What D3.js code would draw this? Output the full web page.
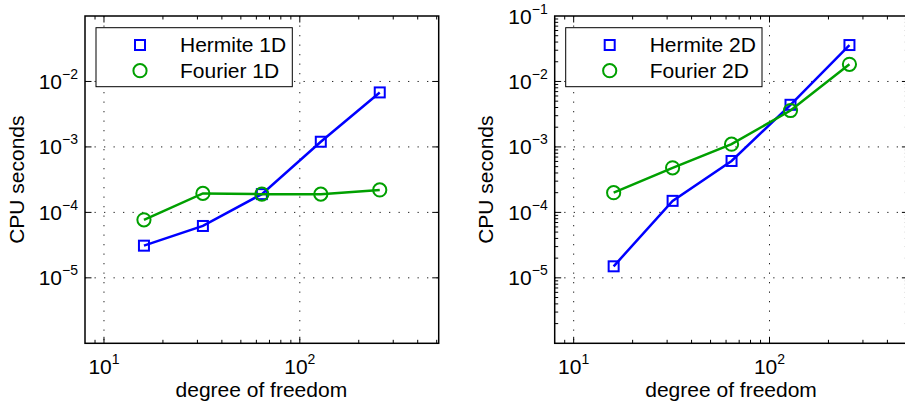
<!DOCTYPE html>
<html>
<head>
<meta charset="utf-8">
<script src="https://cdn.jsdelivr.net/npm/d3@7"></script>
<style>
  body { margin: 0; background: #fff; }
  svg { display: block; font-family: "Liberation Sans", Arial, Helvetica, sans-serif; }
</style>
</head>
<body>
<svg id="chart" width="905" height="407"></svg>
<script>
// degrees of freedom (x) and timings (y)
var dof = [16, 32, 64, 128, 256];
var hermite1D = [3.1e-5, 6.2e-5, 1.9e-4, 1.2e-3, 6.8e-3];
var fourier1D = [7.7e-5, 1.95e-4, 1.9e-4, 1.9e-4, 2.2e-4];
var hermite2D = [1.5e-5, 1.5e-4, 6.1e-4, 4.4e-3, 3.6e-2];
var fourier2D = [2.0e-4, 4.8e-4, 1.1e-3, 3.6e-3, 1.83e-2];

// tick labels (powers of ten)
var xTickExp = [1, 2];
var yTickExpLeft = [-2, -3, -4, -5];
var yTickExpRight = [-1, -2, -3, -4, -5];

var xDomain = [8, 512];
var yDomain = [1e-6, 1e-1];

var plotW = 353.7, plotH = 327.3, plotTop = 16;
var blue = "#0000ff", green = "#00a000";

var svg = d3.select("#chart");

function minorValues(lo, hi) {
    var out = [];
    for (var e = Math.floor(Math.log10(lo)); e <= Math.ceil(Math.log10(hi)); e++) {
        for (var k = 2; k <= 9; k++) {
            var v = k * Math.pow(10, e);
            if (v > lo && v < hi) out.push(v);
        }
    }
    return out;
}

function pow10Label(sel, exp) {
    sel.append("tspan").text("10");
    sel.append("tspan")
        .attr("dy", -10)
        .style("font-size", "14px")
        .text(exp < 0 ? "\u2212" + (-exp) : exp);
}

function drawPanel(left, series, legendNames, yLabels, yMinor) {
    var g = svg.append("g").attr("transform", "translate(" + left + "," + plotTop + ")");

    var x = d3.scaleLog().domain(xDomain).range([0, plotW]);
    var y = d3.scaleLog().domain(yDomain).range([plotH, 0]);

    // dotted grid at the decades
    var grid = g.append("g")
        .attr("stroke", "#222")
        .attr("stroke-width", 1)
        .attr("stroke-dasharray", "1.3,8.2");
    grid.selectAll(".vg").data([10, 100]).enter().append("line")
        .attr("x1", function(d) { return x(d); })
        .attr("x2", function(d) { return x(d); })
        .attr("y1", 0).attr("y2", plotH);
    grid.selectAll(".hg").data([1e-5, 1e-4, 1e-3, 1e-2]).enter().append("line")
        .attr("y1", function(d) { return y(d); })
        .attr("y2", function(d) { return y(d); })
        .attr("x1", 0).attr("x2", plotW);

    // ticks on all four sides, pointing inward
    var ticks = g.append("g").attr("stroke", "#000").attr("stroke-width", 1);
    function xTicks(vals, len) {
        vals.forEach(function(v) {
            ticks.append("line").attr("x1", x(v)).attr("x2", x(v)).attr("y1", plotH).attr("y2", plotH - len);
            ticks.append("line").attr("x1", x(v)).attr("x2", x(v)).attr("y1", 0).attr("y2", len);
        });
    }
    function yTicks(vals, len) {
        vals.forEach(function(v) {
            ticks.append("line").attr("y1", y(v)).attr("y2", y(v)).attr("x1", 0).attr("x2", len);
            ticks.append("line").attr("y1", y(v)).attr("y2", y(v)).attr("x1", plotW).attr("x2", plotW - len);
        });
    }
    xTicks([10, 100], 6.5);
    xTicks(minorValues(xDomain[0], xDomain[1]), 3.5);
    yTicks([1e-5, 1e-4, 1e-3, 1e-2], 6.5);
    if (yMinor) yTicks(minorValues(yDomain[0], yDomain[1]), 3.5);

    // data lines and markers
    var line = d3.line()
        .x(function(d) { return x(d[0]); })
        .y(function(d) { return y(d[1]); });

    series.forEach(function(s) {
        var pts = d3.zip(dof, s.values);
        g.append("path")
            .datum(pts)
            .attr("d", line)
            .attr("fill", "none")
            .attr("stroke", s.color)
            .attr("stroke-width", 2.5);
        if (s.marker === "square") {
            g.selectAll(null).data(pts).enter().append("rect")
                .attr("x", function(d) { return x(d[0]) - 5; })
                .attr("y", function(d) { return y(d[1]) - 5; })
                .attr("width", 10).attr("height", 10)
                .attr("fill", "none").attr("stroke", s.color).attr("stroke-width", 2);
        } else {
            g.selectAll(null).data(pts).enter().append("circle")
                .attr("cx", function(d) { return x(d[0]); })
                .attr("cy", function(d) { return y(d[1]); })
                .attr("r", 6.6)
                .attr("fill", "none").attr("stroke", s.color).attr("stroke-width", 2);
        }
    });

    // box
    g.append("rect")
        .attr("width", plotW).attr("height", plotH)
        .attr("fill", "none").attr("stroke", "#000").attr("stroke-width", 1.5);

    // tick labels
    xTickExp.forEach(function(e) {
        var t = g.append("text")
            .attr("x", x(Math.pow(10, e)))
            .attr("y", plotH + 31)
            .attr("text-anchor", "middle")
            .style("font-size", "21px");
        pow10Label(t, e);
    });
    yLabels.forEach(function(e) {
        var t = g.append("text")
            .attr("x", -7)
            .attr("y", y(Math.pow(10, e)) + 7.5)
            .attr("text-anchor", "end")
            .style("font-size", "21px");
        pow10Label(t, e);
    });

    // axis titles
    g.append("text")
        .attr("x", plotW / 2 - 0.5)
        .attr("y", 381)
        .attr("text-anchor", "middle")
        .style("font-size", "21px")
        .text("degree of freedom");
    g.append("text")
        .attr("transform", "translate(" + (-61.5) + "," + (plotH / 2) + ") rotate(-90)")
        .attr("text-anchor", "middle")
        .style("font-size", "21px")
        .text("CPU seconds");

    // legend
    var lg = g.append("g").attr("transform", "translate(11,11.7)");
    lg.append("rect")
        .attr("width", 196.3).attr("height", 59)
        .attr("fill", "#fff").attr("stroke", "#000").attr("stroke-width", 1);
    series.forEach(function(s, i) {
        var cy = 17.3 + i * 25.7;
        if (s.marker === "square") {
            lg.append("rect").attr("x", 39).attr("y", cy - 5).attr("width", 10).attr("height", 10)
                .attr("fill", "none").attr("stroke", s.color).attr("stroke-width", 2);
        } else {
            lg.append("circle").attr("cx", 44).attr("cy", cy).attr("r", 6.6)
                .attr("fill", "none").attr("stroke", s.color).attr("stroke-width", 2);
        }
        lg.append("text")
            .attr("x", 84)
            .attr("y", cy + 7)
            .style("font-size", "21px")
            .text(legendNames[i]);
    });
}

drawPanel(85, [
    {values: hermite1D, color: blue, marker: "square"},
    {values: fourier1D, color: green, marker: "circle"}
], ["Hermite 1D", "Fourier 1D"], yTickExpLeft, false);

drawPanel(554.7, [
    {values: hermite2D, color: blue, marker: "square"},
    {values: fourier2D, color: green, marker: "circle"}
], ["Hermite 2D", "Fourier 2D"], yTickExpRight, true);
</script>
</body>
</html>
